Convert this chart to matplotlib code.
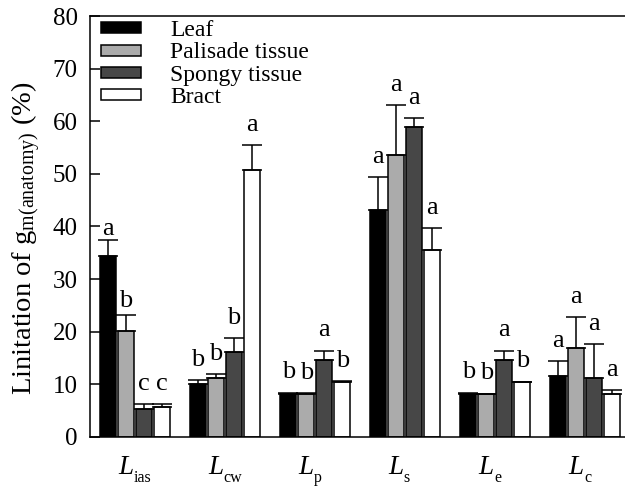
import numpy as np
import matplotlib
matplotlib.use('Agg')
import matplotlib.pyplot as plt

plt.rcParams['font.family'] = 'Liberation Serif'
plt.rcParams['mathtext.fontset'] = 'custom'
plt.rcParams['mathtext.rm'] = 'Liberation Serif'
plt.rcParams['mathtext.it'] = 'Liberation Serif:italic'

# limitation components
groups = ['ias', 'cw', 'p', 's', 'e', 'c']
series = ['Leaf', 'Palisade tissue', 'Spongy tissue', 'Bract']
colors = ['#000000', '#ababab', '#474747', '#ffffff']

leaf = [34.4, 10.0, 8.1, 43.1, 8.1, 11.6]
leaf_err = [3.0, 0.8, 0.3, 6.3, 0.3, 2.8]
palisade = [20.2, 11.2, 8.1, 53.5, 8.1, 16.8]
palisade_err = [3.0, 0.7, 0.2, 9.5, 0.1, 6.0]
spongy = [5.3, 16.2, 14.6, 58.9, 14.6, 11.1]
spongy_err = [0.9, 2.5, 1.8, 1.7, 1.8, 6.5]
bract = [5.6, 50.8, 10.5, 35.6, 10.4, 8.1]
bract_err = [0.6, 4.6, 0.1, 4.1, 0.1, 0.8]

leaf_lbl = ['a', 'b', 'b', 'a', 'b', 'a']
palisade_lbl = ['b', 'b', 'b', 'a', 'b', 'a']
spongy_lbl = ['c', 'b', 'a', 'a', 'a', 'a']
bract_lbl = ['c', 'a', 'b', 'a', 'b', 'a']

values = [leaf, palisade, spongy, bract]
errors = [leaf_err, palisade_err, spongy_err, bract_err]
labels = [leaf_lbl, palisade_lbl, spongy_lbl, bract_lbl]

# letters sit closer to the cap for the first two L_ias bars
gap_fix = {(0, 0): 1.0, (1, 0): 1.5}

fig = plt.figure(figsize=(6.25, 4.88), dpi=100)
ax = fig.add_axes([0.144, 0.105, 0.856, 0.862])

x = np.arange(len(groups))
width = 0.178
offsets = [-0.3, -0.1, 0.1, 0.3]

for i in range(4):
    xs = x + offsets[i]
    ax.bar(xs, values[i], width, color=colors[i], edgecolor='black',
           linewidth=1.1, label=series[i], zorder=2)
    ax.errorbar(xs, values[i], yerr=[np.zeros(len(groups)), errors[i]],
                fmt='none', ecolor='black', elinewidth=1.1, capsize=7,
                capthick=1.1, zorder=3)
    for j in range(len(groups)):
        gap = gap_fix.get((i, j), 2.7)
        ax.text(xs[j], values[i][j] + errors[i][j] + gap, labels[i][j],
                ha='center', va='baseline', fontsize=19)

ax.set_xlim(-0.5, 5.44)
ax.set_ylim(0, 80)
ax.set_yticks(np.arange(0, 81, 10))
ax.set_xticks(x)
ax.set_xticklabels([])
ax.tick_params(axis='x', length=0)
ax.tick_params(axis='y', direction='in', length=7, width=1.1, labelsize=18, pad=9)
ax.spines['right'].set_visible(False)
for s in ['left', 'top', 'bottom']:
    ax.spines[s].set_linewidth(1.1)

# category labels: italic L with a lowered subscript
for j, g in enumerate(groups):
    ax.annotate('L', xy=(x[j], 0), xycoords=('data', 'axes fraction'),
                xytext=(-1.5, -26.5), textcoords='offset points',
                ha='right', va='baseline', fontsize=19.5, style='italic')
    ax.annotate(g, xy=(x[j], 0), xycoords=('data', 'axes fraction'),
                xytext=(-1.0, -32.5), textcoords='offset points',
                ha='left', va='baseline', fontsize=11.5)

ax.set_ylabel(r'Linitation of g$_{\mathrm{m(anatomy)}}$ (%)', fontsize=20.5)
ax.yaxis.set_label_coords(-0.087, 0.473)

ax.legend(loc='upper left', bbox_to_anchor=(0.02, 0.99), frameon=False,
          fontsize=17, handlelength=1.7, handleheight=0.34, handletextpad=1.25,
          labelspacing=0.05, borderpad=0.0, borderaxespad=0.0)

fig.savefig('out.png', dpi=100)
